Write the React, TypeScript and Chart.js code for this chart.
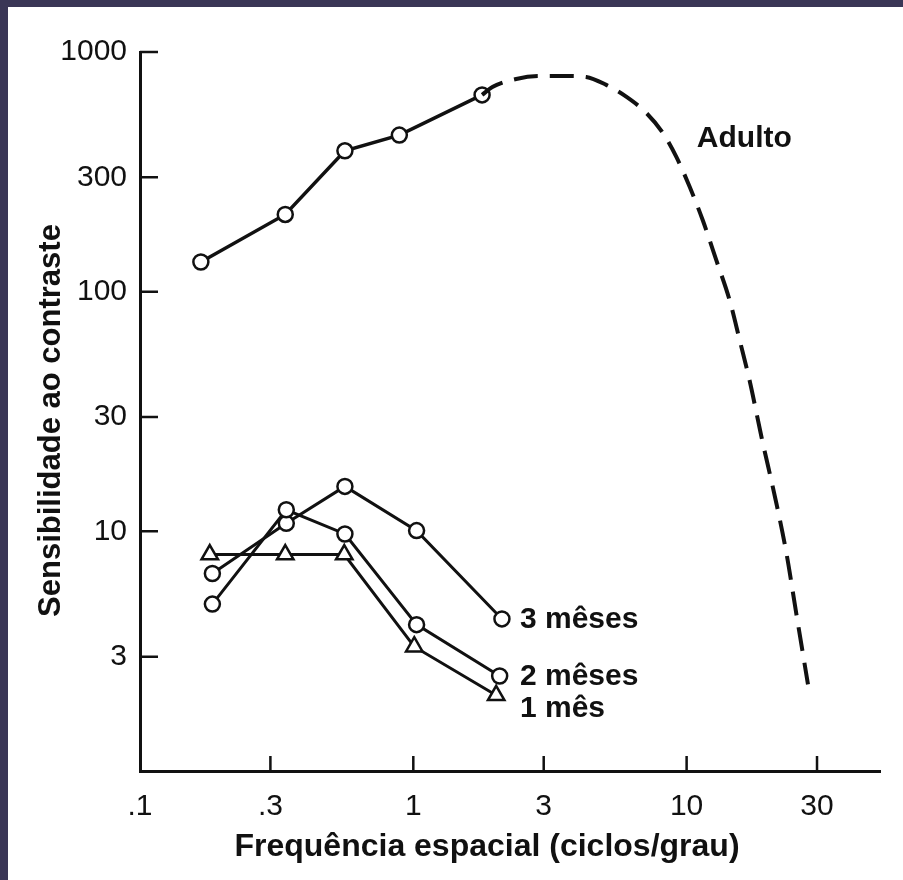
import React, { useEffect, useRef } from "react";
import { Chart, registerables } from "chart.js";

Chart.register(...registerables);

// ---- axis ticks ----
const X_TICKS = [0.1, 0.3, 1, 3, 10, 30];
const X_TICK_LABELS = [".1", ".3", "1", "3", "10", "30"];
const Y_TICKS = [3, 10, 30, 100, 300, 1000];
const Y_TICK_LABELS = ["3", "10", "30", "100", "300", "1000"];
const X_MIN = 0.1;
const X_MAX = 51;
const Y_MIN = 1;
const Y_MAX = 1000;

const X_TITLE = "Frequência espacial (ciclos/grau)";
const Y_TITLE = "Sensibilidade ao contraste";

// ---- adult (measured) ----
const ADULT_FREQ = [0.167, 0.34, 0.562, 0.889, 1.785];
const ADULT_SENS = [133, 210, 387, 450, 662];

// ---- adult (extrapolated, dashed) ----
const ADULT_EXT_FREQ = [1.785, 1.947, 2.38, 2.89, 3.63, 4.29, 5.08, 6.01, 7.12, 8.19, 9.17, 10.26, 11.45, 12.85, 14.37, 15.64, 17.0, 18.8, 21.3, 23.2, 25.2, 27.8];
const ADULT_EXT_SENS = [662, 714, 772, 794, 794, 787, 729, 651, 557, 459, 365, 274, 199, 135, 92, 62.7, 42.6, 24.7, 13.1, 8.07, 4.53, 2.3];

const ADULT_LABEL = "Adulto";
const ADULT_LABEL_FREQ = 10.9;
const ADULT_LABEL_SENS = 433;

// ---- infants ----
const M3_FREQ = [0.184, 0.343, 0.562, 1.028, 2.11];
const M3_SENS = [6.67, 10.8, 15.4, 10.07, 4.31];
const M2_FREQ = [0.184, 0.343, 0.562, 1.028, 2.07];
const M2_SENS = [4.97, 12.3, 9.75, 4.08, 2.49];
const M1_FREQ = [0.18, 0.34, 0.559, 1.008, 2.01];
const M1_SENS = [8.0, 8.0, 8.0, 3.3, 2.07];

const INFANT_NAMES = ["3 mêses", "2 mêses", "1 mês"];
const INFANT_LABEL_DY = [1, 1, 13];

const FONT = "'Liberation Sans', Arial, Helvetica, sans-serif";
const INK = "#111";

const toPts = (xs: number[], ys: number[]) => xs.map((x, i) => ({ x, y: ys[i] }));

const innerTicks = {
  id: "innerTicks",
  afterDraw(chart: any) {
    const { ctx, chartArea, scales } = chart;
    const xs = scales.x;
    const ys = scales.y;
    ctx.save();
    ctx.strokeStyle = INK;
    ctx.lineWidth = 2.5;
    ctx.beginPath();
    X_TICKS.forEach((v) => {
      if (v <= xs.min) return;
      const px = xs.getPixelForValue(v);
      ctx.moveTo(px, chartArea.bottom);
      ctx.lineTo(px, chartArea.bottom - 15);
    });
    Y_TICKS.forEach((v) => {
      const py = ys.getPixelForValue(v);
      ctx.moveTo(chartArea.left, py);
      ctx.lineTo(chartArea.left + 18, py);
    });
    ctx.stroke();
    ctx.restore();
  },
};

// axis titles, placed relative to the chart area
const axisTitles = {
  id: "axisTitles",
  afterDraw(chart: any) {
    const { ctx, chartArea } = chart;
    ctx.save();
    ctx.fillStyle = INK;
    ctx.textAlign = "center";
    ctx.textBaseline = "middle";
    ctx.font = `bold 32px ${FONT}`;
    ctx.fillText(X_TITLE, chartArea.left + 347, chartArea.bottom + 76);
    ctx.font = `bold 31px ${FONT}`;
    ctx.translate(chartArea.left - 89, (chartArea.top + chartArea.bottom) / 2 + 9);
    ctx.rotate(-Math.PI / 2);
    ctx.fillText(Y_TITLE, 0, 0);
    ctx.restore();
  },
};

const seriesLabels = {
  id: "seriesLabels",
  afterDatasetsDraw(chart: any) {
    const { ctx, scales } = chart;
    const xs = scales.x;
    const ys = scales.y;
    ctx.save();
    ctx.fillStyle = INK;
    ctx.font = `bold 30px ${FONT}`;
    ctx.textAlign = "left";
    ctx.textBaseline = "middle";
    ctx.fillText(ADULT_LABEL, xs.getPixelForValue(ADULT_LABEL_FREQ), ys.getPixelForValue(ADULT_LABEL_SENS));
    const series = [
      [M3_FREQ, M3_SENS],
      [M2_FREQ, M2_SENS],
      [M1_FREQ, M1_SENS],
    ];
    const ends = series.map(([f, s]) => ({
      x: xs.getPixelForValue(f[f.length - 1]),
      y: ys.getPixelForValue(s[s.length - 1]),
    }));
    const lx = Math.max(...ends.map((e) => e.x)) + 18;
    INFANT_NAMES.forEach((name, i) => {
      ctx.fillText(name, lx, ends[i].y + INFANT_LABEL_DY[i]);
    });
    ctx.restore();
  },
};

export default function App() {
  const ref = useRef<HTMLCanvasElement | null>(null);

  useEffect(() => {
    if (!ref.current) return;
    const circle = {
      pointStyle: "circle",
      pointRadius: 7.5,
      pointBorderWidth: 2.5,
      pointBackgroundColor: "#fff",
      pointBorderColor: INK,
    };
    const chart = new Chart(ref.current, {
      type: "line",
      data: {
        datasets: [
          {
            label: "Adulto (extrapolado)",
            data: toPts(ADULT_EXT_FREQ, ADULT_EXT_SENS),
            borderColor: INK,
            borderWidth: 4,
            borderDash: [24, 12],
            pointRadius: 0,
            cubicInterpolationMode: "monotone",
            fill: false,
          },
          {
            label: "Adulto",
            data: toPts(ADULT_FREQ, ADULT_SENS),
            borderColor: INK,
            borderWidth: 3.5,
            tension: 0,
            fill: false,
            ...circle,
          },
          {
            label: "1 mês",
            data: toPts(M1_FREQ, M1_SENS),
            borderColor: INK,
            borderWidth: 3,
            tension: 0,
            fill: false,
            pointStyle: "triangle",
            pointRadius: 9.5,
            pointBorderWidth: 2.5,
            pointBackgroundColor: "#fff",
            pointBorderColor: INK,
          },
          {
            label: "2 mêses",
            data: toPts(M2_FREQ, M2_SENS),
            borderColor: INK,
            borderWidth: 3,
            tension: 0,
            fill: false,
            ...circle,
          },
          {
            label: "3 mêses",
            data: toPts(M3_FREQ, M3_SENS),
            borderColor: INK,
            borderWidth: 3,
            tension: 0,
            fill: false,
            ...circle,
          },
        ],
      },
      options: {
        responsive: false,
        animation: false,
        devicePixelRatio: 1,
        layout: { padding: { left: 0, right: 23, top: 52, bottom: 0 } },
        plugins: {
          legend: { display: false },
          tooltip: { enabled: false },
        },
        scales: {
          x: {
            type: "logarithmic",
            min: X_MIN,
            max: X_MAX,
            afterBuildTicks: (scale: any) => {
              scale.ticks = X_TICKS.map((value) => ({ value }));
            },
            afterFit: (scale: any) => {
              scale.height = 109;
            },
            grid: { display: false, drawTicks: false },
            border: { display: true, color: INK, width: 3 },
            ticks: {
              autoSkip: false,
              maxRotation: 0,
              padding: 18,
              color: INK,
              font: { family: FONT, size: 30 },
              callback: (_v: any, i: number) => X_TICK_LABELS[i],
            },
            title: { display: false },
          },
          y: {
            type: "logarithmic",
            min: Y_MIN,
            max: Y_MAX,
            afterBuildTicks: (scale: any) => {
              scale.ticks = Y_TICKS.map((value) => ({ value }));
            },
            afterFit: (scale: any) => {
              scale.width = 140;
            },
            grid: { display: false, drawTicks: false },
            border: { display: true, color: INK, width: 3 },
            ticks: {
              autoSkip: false,
              padding: 13,
              color: INK,
              font: { family: FONT, size: 30 },
              callback: (_v: any, i: number) => Y_TICK_LABELS[i],
            },
            title: { display: false },
          },
        },
      } as any,
      plugins: [innerTicks, axisTitles, seriesLabels],
    });
    return () => chart.destroy();
  }, []);

  return (
    <div style={{ position: "fixed", left: 0, top: 0, width: 903, height: 880, background: "#3a3656" }}>
      <div style={{ position: "absolute", left: 8, top: 7, right: 0, bottom: 0, background: "#ffffff" }} />
      <canvas ref={ref} width={903} height={880} style={{ position: "absolute", left: 0, top: 0, display: "block" }} />
    </div>
  );
}
